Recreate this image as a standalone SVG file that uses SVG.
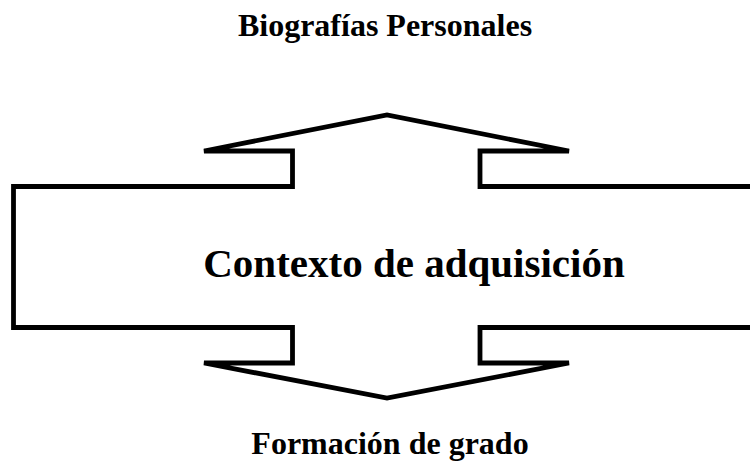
<svg xmlns="http://www.w3.org/2000/svg" width="750" height="461" viewBox="0 0 750 461">
<style>
.lbl{font-family:"Liberation Serif","Times New Roman",serif;font-weight:bold;fill:#000;text-anchor:middle}
.shape{fill:#fff;stroke:#000;stroke-width:4.8;stroke-linejoin:miter}
</style>
<rect width="750" height="461" fill="#fff"/>
<g id="context-shape">
<polygon class="shape" points="13.5,186.5 292.5,186.5 292.5,151 204,151 387,115 569,151 480,151 480,186.5 760,186.5 760,327.5 480,327.5 480,363 569,363 387,398 204,363 292.5,363 292.5,327.5 13.5,327.5"/>
<text class="lbl" x="414" y="276.5" font-size="41">Contexto de adquisición</text>
</g>
<g id="top-label">
<text class="lbl" x="385" y="35.5" font-size="32">Biografías Personales</text>
</g>
<g id="bottom-label">
<text class="lbl" x="390" y="453.5" font-size="32">Formación de grado</text>
</g>
</svg>
